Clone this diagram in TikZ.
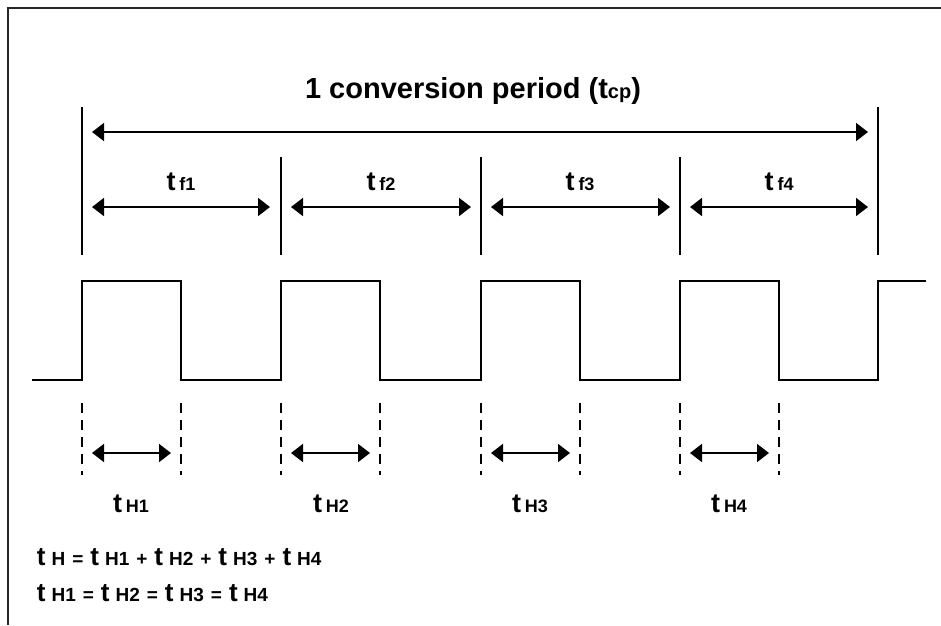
\documentclass[tikz,border=0pt]{standalone}
\usepackage{fontspec}
\setmainfont{Liberation Sans}
\usetikzlibrary{arrows.meta}

\newcommand{\tlbl}[1]{{\fontsize{27}{27}\selectfont t}\hspace{4pt}{\fontsize{18}{18}\selectfont #1}}
\newcommand{\teq}[1]{{\fontsize{26}{26}\selectfont t}\hspace{6pt}{\fontsize{19}{19}\selectfont #1}}
\newcommand{\op}[1]{\hspace{7pt}#1\hspace{7pt}}

\begin{document}
\begin{tikzpicture}[x=1pt,y=-1pt,line width=1.8pt,
    >={Triangle[length=12pt,width=18pt]},
    tlabel/.style={anchor=base,inner sep=0pt,font=\bfseries},
    gap/.style={<->,shorten <=10pt,shorten >=10pt},
    mark line/.style={dash pattern=on 10pt off 7pt}]
    \useasboundingbox (0,0) rectangle (941,625);
    \draw [line width=1.5pt,black!85] (8,625) -- (8,8) -- (941,8);

    % title
    \path (473,98) node [tlabel] (cp)
	{\fontsize{29}{29}\selectfont 1 conversion period (t{\fontsize{20}{20}\selectfont cp})};

    % period boundaries
    \path (82,107) coordinate (b0t) (82,255) coordinate (b0b);
    \path (281,157) coordinate (b1t) (281,255) coordinate (b1b);
    \path (481,157) coordinate (b2t) (481,255) coordinate (b2b);
    \path (680,157) coordinate (b3t) (680,255) coordinate (b3b);
    \path (878,107) coordinate (b4t) (878,255) coordinate (b4b);
    \draw (b0t) -- (b0b);
    \draw (b1t) -- (b1b);
    \draw (b2t) -- (b2b);
    \draw (b3t) -- (b3b);
    \draw (b4t) -- (b4b);

    \path (82,132) coordinate (p0) (878,132) coordinate (p4);
    \draw [gap] (p0) -- (p4);

    \path (82,207) coordinate (f0) (281,207) coordinate (f1)
	(481,207) coordinate (f2) (680,207) coordinate (f3) (878,207) coordinate (f4);
    \draw [gap,shorten >=11pt] (f0) -- (f1);
    \draw [gap] (f1) -- (f2);
    \draw [gap] (f2) -- (f3);
    \draw [gap] (f3) -- (f4);
    \path (181,190) node [tlabel] (tf1) {\tlbl{f1}};
    \path (381,190) node [tlabel] (tf2) {\tlbl{f2}};
    \path (580,190) node [tlabel] (tf3) {\tlbl{f3}};
    \path (779,190) node [tlabel] (tf4) {\tlbl{f4}};

    % the signal
    \draw (32,380) -- (82,380) -- (82,281) -- (181,281) -- (181,380) --
	(281,380) -- (281,281) -- (380,281) -- (380,380) --
	(481,380) -- (481,281) -- (580,281) -- (580,380) --
	(680,380) -- (680,281) -- (779,281) -- (779,380) --
	(878,380) -- (878,281) -- (926,281);

    % high times
    \path (82,403) coordinate (h1a) (181,403) coordinate (h1b);
    \path (281,403) coordinate (h2a) (380,403) coordinate (h2b);
    \path (481,403) coordinate (h3a) (580,403) coordinate (h3b);
    \path (680,403) coordinate (h4a) (779,403) coordinate (h4b);
    \draw [mark line] (h1a) -- ++(0,72);
    \draw [mark line] (h1b) -- ++(0,72);
    \draw [mark line] (h2a) -- ++(0,72);
    \draw [mark line] (h2b) -- ++(0,72);
    \draw [mark line] (h3a) -- ++(0,72);
    \draw [mark line] (h3b) -- ++(0,72);
    \draw [mark line] (h4a) -- ++(0,72);
    \draw [mark line] (h4b) -- ++(0,72);
    \draw [gap] ([yshift=-50pt]h1a) -- ([yshift=-50pt]h1b);
    \draw [gap] ([yshift=-50pt]h2a) -- ([yshift=-50pt]h2b);
    \draw [gap] ([yshift=-50pt]h3a) -- ([yshift=-50pt]h3b);
    \draw [gap] ([yshift=-50pt]h4a) -- ([yshift=-50pt]h4b);
    \path (131,512) node [tlabel] (tH1) {\tlbl{H1}};
    \path (331,512) node [tlabel] (tH2) {\tlbl{H2}};
    \path (530,512) node [tlabel] (tH3) {\tlbl{H3}};
    \path (729,512) node [tlabel] (tH4) {\tlbl{H4}};

    % sums
    \path (36,565) node [tlabel,anchor=base west,font=\bfseries\fontsize{19}{19}\selectfont] (sum)
	{\teq{H}\op{=}\teq{H1}\op{+}\teq{H2}\op{+}\teq{H3}\op{+}\teq{H4}};
    \path (36,601) node [tlabel,anchor=base west,font=\bfseries\fontsize{19}{19}\selectfont] (eq)
	{\teq{H1}\op{=}\teq{H2}\op{=}\teq{H3}\op{=}\teq{H4}};
\end{tikzpicture}
\end{document}
